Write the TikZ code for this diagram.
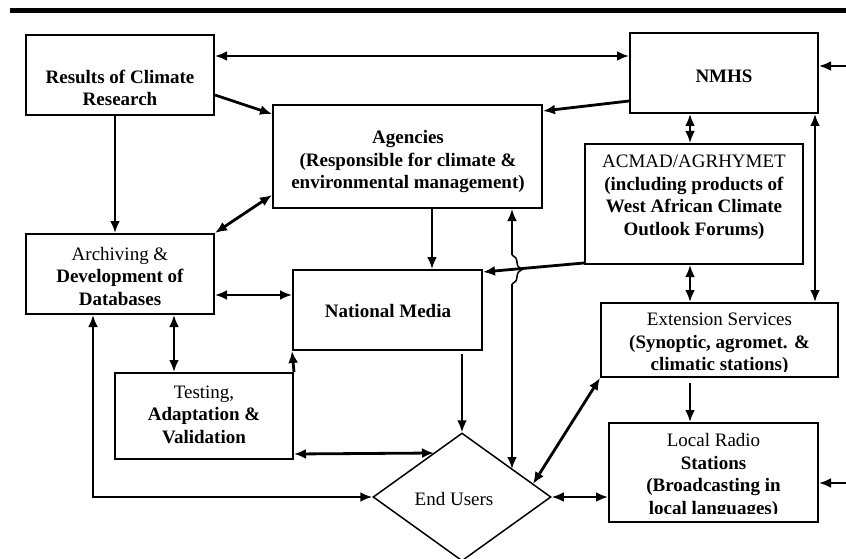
\documentclass[tikz,border=0pt]{standalone}
\usepackage{fontspec}
\setmainfont{Liberation Serif}
\usetikzlibrary{arrows.meta,shapes.geometric,decorations.pathreplacing,calc}
\begin{document}
\begin{tikzpicture}[x=1pt,y=-1pt,
  box/.style={draw, line width=2pt, inner sep=0pt},
  txt/.style={align=center, font=\fontsize{19}{22.5}\selectfont, inner sep=0pt},
  arr/.style={line width=2.8pt, -{Latex[length=12pt,width=10pt]}},
  darr/.style={line width=2.8pt, {Latex[length=12pt,width=10pt]}-{Latex[length=12pt,width=10pt]}},
  jump/.style={line width=1.5pt, decorate, decoration={brace, amplitude=10pt}}
]
\useasboundingbox (0,0) rectangle (846,559);
\fill (10,8) rectangle (846,13.5);

% boxes
\node[box, minimum width=188pt, minimum height=80pt] (res) at (120,75) {};
\node[box, minimum width=188pt, minimum height=80pt] (nmhs) at (724,73) {};
\node[box, minimum width=269pt, minimum height=103pt] (ag) at (407.5,156.5) {};
\node[box, minimum width=188pt, minimum height=80pt] (arch) at (120,274) {};
\node[box, minimum width=189pt, minimum height=80pt] (media) at (387.5,310) {};
\node[box, minimum width=218pt, minimum height=120pt] (acmad) at (694,204) {};
\node[box, minimum width=237pt, minimum height=74pt] (ext) at (719.5,340) {};
\node[box, minimum width=178pt, minimum height=86pt] (test) at (204,416) {};
\node[box, minimum width=209pt, minimum height=99pt] (radio) at (713.5,472.5) {};
\node[draw, diamond, line width=1.5pt, inner sep=0pt, minimum width=178pt, minimum height=128pt] (eu) at (462,497) {};

% texts
\node[txt] (resT) at (120,88) {\textbf{Results of Climate}\\\textbf{Research}};
\node[txt] (nmhsT) at (724,76) {\textbf{NMHS}};
\node[txt] (agT) at (408,162) {\textbf{Agencies}\\\textbf{(Responsible for climate \&}\\\textbf{environmental management)}};
\node[txt] (archT) at (120,276) {Archiving \&\\\textbf{Development of}\\\textbf{Databases}};
\node[txt] (mediaT) at (388,311) {\textbf{National Media}};
\node[txt] (acmadT) at (694,197) {ACMAD/AGRHYMET\\\textbf{(including products of}\\\textbf{West African Climate}\\\textbf{Outlook Forums)}};
\begin{scope}
\clip (601,303) rectangle (838,371);
\node[txt] (extT) at (719.5,344) {Extension Services\\\textbf{(Synoptic, agromet. \&}\\\textbf{climatic stations)}};
\end{scope}
\begin{scope}
\clip (609,423) rectangle (818,513);
\node[txt] (radioT) at (713.5,476) {Local Radio\\\textbf{Stations}\\\textbf{(Broadcasting in}\\\textbf{local languages)}};
\end{scope}
\node[txt] (testT) at (204,414.5) {Testing,\\\textbf{Adaptation \&}\\\textbf{Validation}};
\node[txt] (euT) at (454,499) {End Users};

% connectors
\coordinate (c1) at ($(res.east)+(0,-19)$);
\draw[darr] (c1) -- (c1 -| nmhs.west);
\coordinate (rin1) at (846,66);
\draw[arr] (rin1) -- (rin1 -| nmhs.east);
\draw[arr] ($(res.east)+(0,20)$) -- ($(ag.north west)+(0,10)$);
\draw[arr] ($(nmhs.west)+(0,28)$) -- ($(ag.north east)+(0,7)$);
\coordinate (c5) at ($(res.south)+(-5,0)$);
\draw[arr] (c5) -- (c5 |- arch.north);
\draw[darr] (arch.north east) -- ($(ag.south west)+(0,-14)$);
\coordinate (c7) at ($(nmhs.south)+(-34,0)$);
\draw[darr] (c7) -- (c7 |- acmad.north);
\coordinate (c8) at ($(nmhs.south east)+(-4,0)$);
\draw[darr] (c8) -- (c8 |- ext.north);
\coordinate (c9) at ($(ag.south)+(24.5,0)$);
\draw[arr] (c9) -- (c9 |- media.north);
\coordinate (c10) at ($(arch.east)+(0,21)$);
\draw[darr] (c10) -- (c10 -| media.west);
\draw[arr] ($(acmad.south west)+(0,-2)$) -- ($(media.north east)+(0,3)$);
% line with jump
\coordinate (jb) at (512,469);
\coordinate (j1) at (512,284);
\coordinate (j2) at (512,255);
\draw[arr] (j1) -- (jb);
\draw[arr] (j2) -- (j2 |- ag.south);
\draw[jump] (j2) -- (j1);
\coordinate (c13) at (c7 |- acmad.south);
\draw[darr] (c13) -- (c13 |- ext.north);
\coordinate (c14a) at (c7 |- ext.south);
\coordinate (c14) at ($(c14a)+(0,5)$);
\draw[arr] (c14) -- (c14 |- radio.north);
\coordinate (rin2) at (846,483);
\draw[arr] (rin2) -- (rin2 -| radio.east);
\coordinate (c16a) at (eu.north |- media.south);
\coordinate (c16) at ($(c16a)+(0,3)$);
\draw[arr] (c16) -- (eu.north);
\draw[arr] (test.north east) -- (media.south west);
\coordinate (c18) at ($(arch.south)+(54,0)$);
\draw[darr] (c18) -- (c18 |- test.north);
\coordinate (c19) at ($(test.south east)+(0,-6)$);
\coordinate (eu19) at (434,453);
\draw[darr] (c19) -- (eu19);
\coordinate (c20) at ($(arch.south)+(-27,0)$);
\draw[darr] (c20) |- (eu.west);
\coordinate (eu21) at (533,484);
\draw[darr] (eu21) -- (ext.south west);
\draw[darr] (eu.east) -- (eu.east -| radio.west);
\end{tikzpicture}
\end{document}
